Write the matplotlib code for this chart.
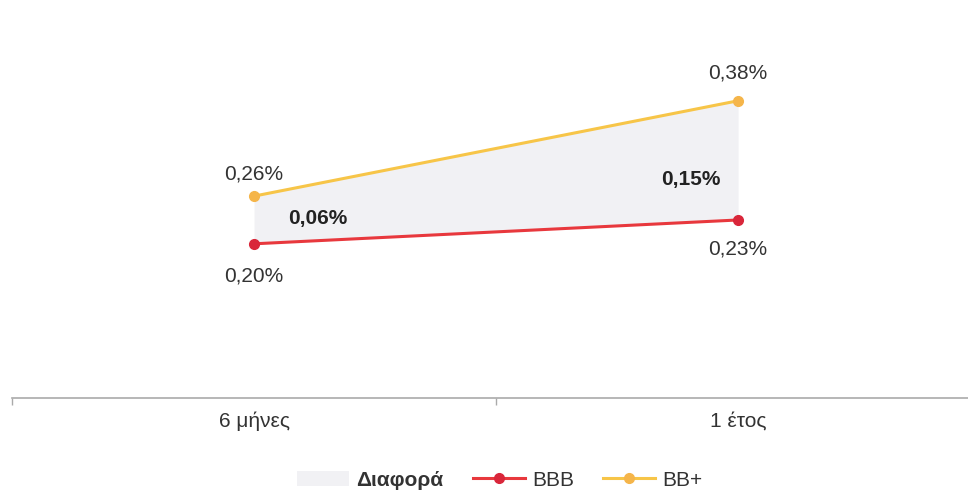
import matplotlib.pyplot as plt
from matplotlib.lines import Line2D
from matplotlib.patches import Patch

plt.rcParams['font.family'] = ['Liberation Sans', 'DejaVu Sans']

# data
categories = ['6 μήνες', '1 έτος']
bbb = [0.20, 0.23]
bb_plus = [0.26, 0.38]
diff = [0.06, 0.15]

red = '#e8383d'
red_dot = '#d9263a'
yellow = '#f7c548'
yellow_dot = '#f5b54a'
fill_col = '#f1f1f4'


def pct(v):
    return f'{v:.2f}%'.replace('.', ',')


fig = plt.figure(figsize=(9.68, 4.92), dpi=100)
ax = fig.add_axes([12 / 968, (492 - 398) / 492, (968 - 12) / 968, 395 / 492])

x = list(range(len(categories)))
ax.fill_between(x, bbb, bb_plus, color=fill_col, lw=0, zorder=1)
ax.plot(x, bbb, color=red, lw=2.2, marker='o', ms=7, mfc=red_dot, mec=red_dot, zorder=3)
ax.plot(x, bb_plus, color=yellow, lw=2.2, marker='o', ms=7, mfc=yellow_dot, mec=yellow_dot, zorder=3)

# value labels
up = [16, 20]
down = [-23, -21]
for i in x:
    ax.annotate(pct(bb_plus[i]), (i, bb_plus[i]), xytext=(0, up[i]), textcoords='offset points',
                ha='center', va='center', fontsize=15, color='#333333')
    ax.annotate(pct(bbb[i]), (i, bbb[i]), xytext=(0, down[i]), textcoords='offset points',
                ha='center', va='center', fontsize=15, color='#333333')

# difference labels
ax.annotate(pct(diff[0]), (0, (bbb[0] + bb_plus[0]) / 2), xytext=(46, 1), textcoords='offset points',
            ha='center', va='center', fontsize=15, fontweight='bold', color='#222222')
ax.annotate(pct(diff[1]), (1, (bbb[1] + bb_plus[1]) / 2), xytext=(-34, -14), textcoords='offset points',
            ha='center', va='center', fontsize=15, fontweight='bold', color='#222222')

ax.set_xlim(-0.5, 1.475)
ax.set_ylim(0.006, 0.503)
ax.set_yticks([])
ax.set_xticks([-0.5, 0.5], minor=True)
ax.set_xticks(x)
ax.set_xticklabels(categories, fontsize=15, color='#333333')
ax.tick_params(axis='x', which='major', length=0, pad=10)
ax.tick_params(axis='x', which='minor', length=5, color='#aaaaaa', width=1)
for s in ['top', 'right', 'left']:
    ax.spines[s].set_visible(False)
ax.spines['bottom'].set_color('#aaaaaa')
ax.spines['bottom'].set_linewidth(1.2)

handles = [
    Patch(facecolor=fill_col, edgecolor='none', label='Διαφορά'),
    Line2D([], [], color=red, lw=2.2, marker='o', ms=7, mfc=red_dot, mec=red_dot, label='BBB'),
    Line2D([], [], color=yellow, lw=2.2, marker='o', ms=7, mfc=yellow_dot, mec=yellow_dot, label='BB+'),
]
leg = fig.legend(handles=handles, loc='center', bbox_to_anchor=(0.5165, 1 - 480 / 492), ncol=3,
                 frameon=False, fontsize=15, handlelength=2.5, columnspacing=1.4, handletextpad=0.35)
for t in leg.get_texts():
    t.set_color('#333333')
leg.get_texts()[0].set_fontweight('bold')

fig.savefig('out.png', dpi=100)
